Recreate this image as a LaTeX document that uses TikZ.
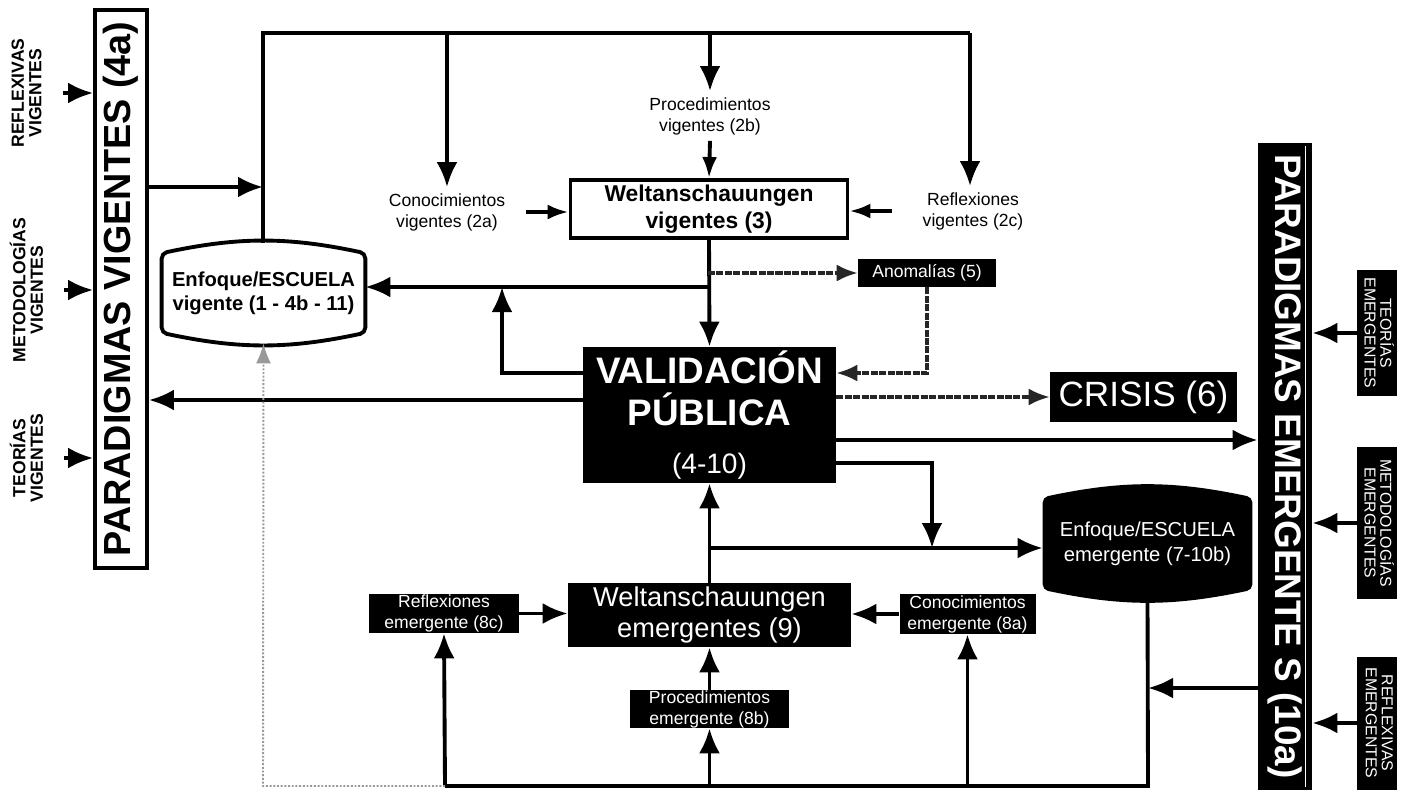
\documentclass[tikz,border=0pt]{standalone}
\usepackage{fontspec}
\setmainfont{Liberation Sans}
\usetikzlibrary{arrows.meta, calc}

\pgfdeclarelayer{bg}
\pgfsetlayers{bg,main}

\newcommand{\fsz}[2]{\fontsize{#1}{#2}\selectfont}
\newcommand{\stk}[1]{\begin{tabular}{@{}c@{}}#1\end{tabular}}
\renewcommand{\arraystretch}{0.9}
% barrel outline round a node: #1 node, #2 path options
\newcommand{\barrel}[2]{%
  \path[#2, rounded corners=3pt] ([yshift=-6pt]#1.north west) to[bend left=12] ([yshift=-6pt]#1.north east)
    -- ([yshift=6pt]#1.south east) to[bend left=12] ([yshift=6pt]#1.south west) -- cycle;}

\begin{document}
\begin{tikzpicture}[x=0.02cm, y=-0.02cm,
    wire/.style={line width=2.2pt},
    arr/.style={wire, -{Latex[length=0.5cm, width=0.42cm]}},
    arrs/.style={wire, -{Latex[length=0.42cm, width=0.3cm]}},
    grain/.style={line width=1.8pt, black!85, dash pattern=on 4pt off 0.8pt, -{Latex[length=0.42cm, width=0.34cm]}},
    faint/.style={line width=1.1pt, black!40, densely dotted, -{Latex[length=0.4cm, width=0.3cm]}},
    wbox/.style={draw, line width=2.2pt, fill=white, inner sep=0pt, align=center},
    bbox/.style={fill=black, text=white, inner sep=0pt, align=center},
    lbl/.style={align=center, font=\fsz{10}{12}},
  ]
  \useasboundingbox (0,0) rectangle (1408,791);

  % paradigms in force and their inputs
  \node[wbox, minimum width=1.04cm, minimum height=11.16cm] (pv) at (121,289)
    {\rotatebox{90}{\fsz{21.5}{24}\bfseries PARADIGMAS VIGENTES (4a)}};
  \node[font=\fsz{10}{11}\bfseries] (lrv) at (29,93) {\rotatebox{90}{\stk{REFLEXIVAS\\VIGENTES}}};
  \node[font=\fsz{10}{11}\bfseries] (lme) at (29,290) {\rotatebox{90}{\stk{METODOLOGÍAS\\VIGENTES}}};
  \node[font=\fsz{10}{11}\bfseries] (lte) at (29,458) {\rotatebox{90}{\stk{TEORÍAS\\VIGENTES}}};

  % sources in force
  \node[lbl] (cv) at (447,212) {Conocimientos\\vigentes (2a)};
  \node[lbl] (pg) at (710,116) {Procedimientos\\vigentes (2b)};
  \node[lbl] (rv) at (973,211) {Reflexiones\\vigentes (2c)};
  \node[wbox, minimum width=5.54cm, minimum height=1.16cm, font=\fsz{13}{15}\bfseries] (wv) at (709,209)
    {Weltanschauungen\\vigentes (3)};
  \node[inner sep=0pt, minimum width=4.06cm, minimum height=2cm, align=center, font=\fsz{11.5}{13.5}\bfseries] (ev) at (263.5,293)
    {Enfoque/ESCUELA\\vigente (1 - 4b - 11)};
  \barrel{ev}{draw, line width=2.2pt}

  % validation, anomalies, crisis
  \node[bbox, minimum width=2.76cm, minimum height=0.56cm, font=\fsz{10}{12}] (an) at (927,273) {Anomalías (5)};
  \node[bbox, minimum width=5.06cm, minimum height=2.72cm, font=\fsz{21}{24}\bfseries] (vp) at (709.5,415)
    {VALIDACIÓN\\PÚBLICA\\[3pt]{\normalfont\fsz{16}{18}(4-10)}};
  \node[bbox, minimum width=3.74cm, minimum height=1cm, font=\fsz{20}{22}] (cr) at (1143.5,397) {CRISIS (6)};

  % emerging paradigms and their inputs
  \node[bbox, minimum width=1.08cm, minimum height=12.94cm] (pe) at (1285,466.5)
    {\rotatebox{-90}{\fsz{21}{24}\bfseries PARADIGMAS EMERGENTE S (10a)}};
  \draw[white, line width=0.6pt] ([xshift=-4pt, yshift=-2pt]pe.north east) -- ([xshift=-4pt, yshift=2pt]pe.south east);
  \node[bbox, minimum width=0.8cm, minimum height=2.54cm, font=\fsz{9}{10}] (rte) at (1377,333) {\rotatebox{-90}{\stk{TEORÍAS\\EMERGENTES}}};
  \node[bbox, minimum width=0.8cm, minimum height=3.06cm, font=\fsz{9}{10}] (rme) at (1377,523) {\rotatebox{-90}{\stk{METODOLOGÍAS\\EMERGENTES}}};
  \node[bbox, minimum width=0.8cm, minimum height=2.66cm, font=\fsz{9}{10}] (rre) at (1377,723) {\rotatebox{-90}{\stk{REFLEXIVAS\\EMERGENTES}}};

  % emerging sources
  \node[inner sep=0pt, minimum width=4.18cm, minimum height=2.26cm, text=white, align=center, font=\fsz{11.5}{14}] (ee) at (1147.5,543.5)
    {Enfoque/ESCUELA\\emergente (7-10b)};
  \begin{pgfonlayer}{bg}
    \barrel{ee}{fill=black}
  \end{pgfonlayer}
  \node[bbox, minimum width=5.66cm, minimum height=1.28cm, font=\fsz{15.5}{18}] (we) at (709.5,615) {Weltanschauungen\\emergentes (9)};
  \node[bbox, minimum width=3cm, minimum height=0.78cm, font=\fsz{10}{12}] (r8c) at (444,613.5) {Reflexiones\\emergente (8c)};
  \node[bbox, minimum width=2.72cm, minimum height=0.8cm, font=\fsz{10}{12}] (c8a) at (967.5,614) {Conocimientos\\emergente (8a)};
  \node[bbox, minimum width=3.18cm, minimum height=0.76cm, font=\fsz{10}{12}] (p8b) at (709.5,709) {Procedimientos\\emergente (8b)};

  % junctions
  \coordinate (tl) at (263,33);
  \coordinate (tr) at (970,33);
  \coordinate (jv) at (263,187);
  \coordinate (ja) at (708,273);
  \coordinate (je) at (708,287);
  \coordinate (ju) at (502,287);
  \coordinate (jd) at (932,548);
  \coordinate (jh) at (708,548);
  \coordinate (jv2) at (1148,688);
  \coordinate (bl) at (445,786);
  \coordinate (br) at (1148,786);
  \coordinate (gl) at (263,786);

  % upper loop
  \foreach \n in {lrv, lme, lte}
    \draw[arr] ([xshift=0.2cm]\n.east) -- (\n.east -| pv.west);
  \draw[arr] (pv.east |- jv) -- (jv);
  \draw[wire] (tl |- ev.north) -- (tl) -- (tr);
  \draw[arr] (tr) -- (tr |- rv.north);
  \draw[arr] (tl -| cv) -- (cv.north);
  \draw[arr] (tl -| pg) -- (pg.north);
  \draw[arrs] (pg.south) -- (wv.north);
  \draw[arrs] ([xshift=0.3cm]cv.east) -- (cv.east -| wv.west);
  \draw[arrs] ([xshift=-0.5cm]rv.west) -- (rv.west -| wv.east);

  % around the validation
  \draw[arr] (wv.south) -- (vp.north);
  \draw[grain] (ja) -- (an.west);
  \draw[arr] (je) -- (je -| ev.east);
  \draw[arr] ([yshift=0.84cm]vp.west) -| (ju);
  \draw[arr] ([yshift=0.3cm]vp.west) -- ([yshift=0.3cm]vp.west -| pv.east);
  \draw[grain] (an.south) |- ([yshift=0.84cm]vp.east);
  \draw[grain] (vp.east |- cr.west) -- (cr.west);
  \draw[arr] ([yshift=-0.5cm]vp.east) -- ([yshift=-0.5cm]vp.east -| pe.west);
  \draw[arr] ([yshift=-0.96cm]vp.east) -| (jd);
  \draw[arr] (jh) -- (jh -| ee.west);
  \draw[arr] (we.north) -- (vp.south);

  % lower loop
  \draw[arr] (r8c.east) -- (r8c.east -| we.west);
  \draw[arr] (c8a.west) -- (c8a.west -| we.east);
  \draw[arr] (p8b.north) -- (we.south);
  \draw[wire] (ee.south) -- (br) -- (bl);
  \draw[arr] (bl) -- (r8c.south);
  \draw[arr] (p8b.south |- bl) -- (p8b.south);
  \draw[arr] (c8a.south |- bl) -- (c8a.south);
  \draw[faint] (bl) -- (gl) -- (ev.south);
  \draw[arr] (pe.west |- jv2) -- (jv2);
  \foreach \n in {rte, rme, rre}
    \draw[arr] (\n.west) -- (\n.west -| pe.east);
\end{tikzpicture}
\end{document}
